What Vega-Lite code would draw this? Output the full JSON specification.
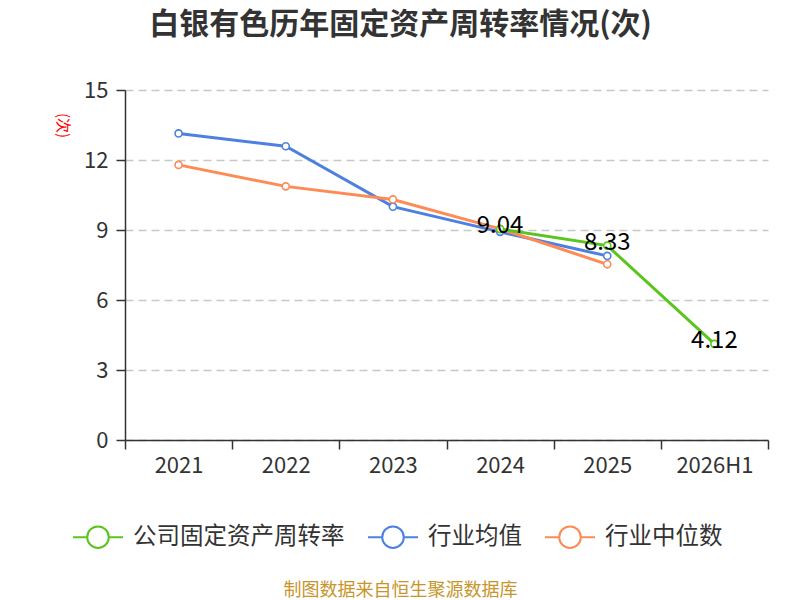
{
  "$schema": "https://vega.github.io/schema/vega-lite/v6.json",
  "autosize": {"type": "none"},
  "width": 643,
  "height": 350,
  "padding": {"left": 125, "top": 90, "right": 32, "bottom": 160},
  "background": "white",
  "config": {
    "font": "Noto Sans CJK SC",
    "view": {"stroke": null}
  },
  "title": {
    "text": "白银有色历年固定资产周转率情况(次)",
    "fontSize": 30,
    "fontWeight": "bold",
    "color": "#333333",
    "anchor": "middle",
    "frame": "group",
    "dx": -46,
    "offset": 39
  },
  "data": {
    "values": [
      {"year": "2021", "series": "行业均值", "value": 13.14},
      {"year": "2022", "series": "行业均值", "value": 12.59},
      {"year": "2023", "series": "行业均值", "value": 10.0},
      {"year": "2024", "series": "行业均值", "value": 8.92},
      {"year": "2025", "series": "行业均值", "value": 7.89},
      {"year": "2021", "series": "行业中位数", "value": 11.79},
      {"year": "2022", "series": "行业中位数", "value": 10.87},
      {"year": "2023", "series": "行业中位数", "value": 10.31},
      {"year": "2024", "series": "行业中位数", "value": 9.05},
      {"year": "2025", "series": "行业中位数", "value": 7.53},
      {"year": "2024", "series": "公司固定资产周转率", "value": 9.04},
      {"year": "2025", "series": "公司固定资产周转率", "value": 8.33},
      {"year": "2026H1", "series": "公司固定资产周转率", "value": 4.12}
    ]
  },
  "encoding": {
    "x": {
      "field": "year",
      "type": "nominal",
      "sort": ["2021", "2022", "2023", "2024", "2025", "2026H1"],
      "scale": {"type": "band", "domain": ["2021", "2022", "2023", "2024", "2025", "2026H1"], "paddingInner": 0, "paddingOuter": 0},
      "axis": {
        "title": "制图数据来自恒生聚源数据库",
        "titleColor": "#c8952a",
        "titleFontSize": 18,
        "titleFontWeight": "normal",
        "titleX": 275,
        "titleY": 150,
        "titleBaseline": "middle",
        "titleAnchor": null,
        "labelAngle": 0,
        "labelFontSize": 22,
        "labelColor": "#333333",
        "labelPadding": 6,
        "tickBand": "extent",
        "tickSize": 9,
        "tickColor": "#333333",
        "tickWidth": 1.5,
        "domainColor": "#333333",
        "domainWidth": 1.5,
        "grid": false
      }
    },
    "y": {
      "field": "value",
      "type": "quantitative",
      "scale": {"domain": [0, 15]},
      "axis": {
        "title": "(次)",
        "titleColor": "red",
        "titleFontSize": 15,
        "titleFontWeight": "normal",
        "titleAngle": 90,
        "titleX": -63,
        "titleY": 35,
        "titleAlign": "center",
        "titleBaseline": "middle",
        "values": [0, 3, 6, 9, 12, 15],
        "labelFontSize": 22,
        "labelColor": "#333333",
        "labelPadding": 8,
        "tickSize": 9,
        "tickColor": "#333333",
        "tickWidth": 1.5,
        "domainColor": "#333333",
        "domainWidth": 1.5,
        "grid": true,
        "gridColor": "#c8c8c8",
        "gridDash": [8, 5],
        "gridWidth": 1.3
      }
    },
    "color": {
      "field": "series",
      "type": "nominal",
      "scale": {
        "domain": ["公司固定资产周转率", "行业均值", "行业中位数"],
        "range": ["#5ac51e", "#4e80e2", "#fd8b55"]
      },
      "legend": {
        "title": null,
        "orient": "none",
        "direction": "horizontal",
        "legendX": -53,
        "legendY": 421,
        "symbolType": "M-1,0L-0.43,0M0.43,0L1,0M-0.43,0A0.43,0.43,0,1,1,0.43,0A0.43,0.43,0,1,1,-0.43,0Z",
        "symbolSize": 2500,
        "symbolStrokeWidth": 2,
        "symbolFillColor": "white",
        "labelFontSize": 23.5,
        "labelLimit": 400,
        "labelColor": "#333333",
        "labelOffset": 9,
        "columnPadding": 19
      }
    }
  },
  "layer": [
    {
      "mark": {"type": "line", "strokeWidth": 3}
    },
    {
      "mark": {"type": "point", "filled": false, "fill": "white", "fillOpacity": 1, "opacity": 1, "size": 50, "strokeWidth": 1.6}
    },
    {
      "transform": [{"filter": "datum.series == '公司固定资产周转率'"}],
      "mark": {"type": "text", "fontSize": 24, "color": "black", "dy": -3, "baseline": "middle"},
      "encoding": {
        "text": {"field": "value", "type": "quantitative", "format": ".2f"},
        "color": {"value": "black"}
      }
    }
  ]
}
